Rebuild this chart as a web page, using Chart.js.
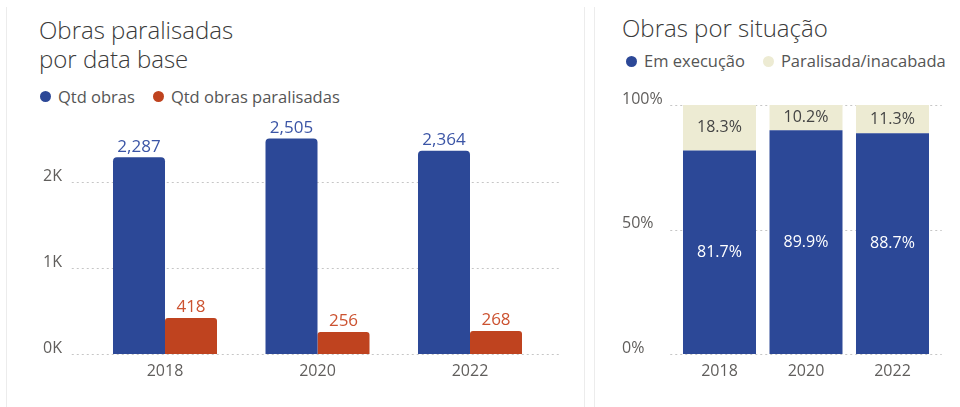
<!DOCTYPE html>
<html>
<head>
<meta charset="utf-8">
<script src="https://cdn.jsdelivr.net/npm/chart.js@4.4.1/dist/chart.umd.min.js"></script>
<style>
  html, body { margin: 0; padding: 0; background: #fff; }
  body { width: 960px; height: 407px; position: relative; overflow: hidden; font-family: "Open Sans", Lato, sans-serif; }
  .panel { position: absolute; top: 7px; height: 410px; border-left: 1px solid #ececec; }
  .title { position: absolute; font-size: 24px; line-height: 29px; color: #3a3a3a; margin: 0; font-weight: 300; white-space: nowrap; }
  .legend { position: absolute; display: flex; font-size: 16.5px; line-height: 20px; color: #555; white-space: nowrap; }
  .legend span.item { display: flex; align-items: center; margin-right: 18px; }
  .legend i { display: inline-block; width: 11px; height: 11px; border-radius: 50%; margin-right: 7px; }
  canvas { position: absolute; top: 0; }
</style>
</head>
<body>
<div class="panel" style="left:6px; width:577px; border-right:1px solid #ececec;"></div>
<div class="panel" style="left:594px; width:370px;"></div>

<div class="title" style="left:39px; top:15px;">Obras paralisadas<br>por data base</div>
<div class="legend" id="legendLeft" style="left:40px; top:86.5px;"></div>

<div class="title" style="left:622px; top:13px;">Obras por situação</div>
<div class="legend" id="legendRight" style="left:626px; top:51px;"></div>

<canvas id="chartLeft" width="590" height="407" style="left:0;"></canvas>
<canvas id="chartRight" width="370" height="407" style="left:590px;"></canvas>

<script>
// dados - obras paralisadas por data base
var anos = ["2018", "2020", "2022"];
var seriesLeft = ["Qtd obras", "Qtd obras paralisadas"];
var qtdObras = [2287, 2505, 2364];
var qtdParalisadas = [418, 256, 268];
var ticksLeft = [0, 1000, 2000];

// dados - obras por situação (%)
var seriesRight = ["Em execução", "Paralisada/inacabada"];
var emExecucao = [81.7, 89.9, 88.7];
var paralisada = [18.3, 10.2, 11.3];
var ticksRight = [0, 50, 100];

var BLUE = "#2c4897";
var RED = "#bf431f";
var BEIGE = "#edebd3";
var TICK_COLOR = "#605e5c";
var FONT = "Open Sans";
var tickFont = { family: FONT, size: 16 };

function buildLegend(id, names, colors) {
    var el = document.getElementById(id);
    names.forEach(function (n, i) {
        var s = document.createElement("span");
        s.className = "item";
        s.innerHTML = '<i style="background:' + colors[i] + '"></i>' + n;
        el.appendChild(s);
    });
}
buildLegend("legendLeft", seriesLeft, [BLUE, RED]);
buildLegend("legendRight", seriesRight, [BLUE, BEIGE]);

function fixedTicks(values) {
    return function (scale) {
        scale.ticks = values.map(function (v) { return { value: v }; });
    };
}

// gridlines pontilhadas que passam um pouco da área do gráfico
var dottedGrid = {
    id: "dottedGrid",
    beforeDatasetsDraw: function (chart, args, opts) {
        var ctx = chart.ctx, y = chart.scales.y, area = chart.chartArea;
        ctx.save();
        ctx.strokeStyle = "#c6c6c6";
        ctx.lineWidth = 1;
        ctx.setLineDash([2, 3]);
        y.ticks.forEach(function (t) {
            var py = Math.round(y.getPixelForValue(t.value)) + 0.5;
            ctx.beginPath();
            ctx.moveTo(area.left - opts.extendLeft, py);
            ctx.lineTo(area.right + opts.extendRight, py);
            ctx.stroke();
        });
        ctx.restore();
    }
};

// rótulos de valor
var valueLabels = {
    id: "valueLabels",
    afterDatasetsDraw: function (chart, args, opts) {
        var ctx = chart.ctx;
        ctx.save();
        ctx.font = opts.size + "px '" + FONT + "'";
        ctx.textAlign = "center";
        chart.data.datasets.forEach(function (ds, di) {
            chart.getDatasetMeta(di).data.forEach(function (bar, i) {
                var v = ds.data[i];
                ctx.fillStyle = opts.colors[di];
                if (opts.inside) {
                    ctx.textBaseline = "middle";
                    ctx.fillText(v.toFixed(1) + "%", bar.x, (bar.y + bar.base) / 2);
                } else {
                    ctx.textBaseline = "bottom";
                    ctx.fillText(v.toLocaleString("en-US"), bar.x, bar.y - 2);
                }
            });
        });
        ctx.restore();
    }
};

new Chart("chartLeft", {
    type: "bar",
    data: {
        labels: anos,
        datasets: [
            { label: seriesLeft[0], data: qtdObras, backgroundColor: BLUE, borderRadius: 4, borderSkipped: "bottom" },
            { label: seriesLeft[1], data: qtdParalisadas, backgroundColor: RED, borderRadius: 3, borderSkipped: "bottom" }
        ]
    },
    options: {
        responsive: false,
        animation: false,
        layout: { padding: { top: 117.5, left: 0, right: 43.75, bottom: 0 } },
        datasets: { bar: { categoryPercentage: 0.682, barPercentage: 1 } },
        plugins: {
            legend: { display: false },
            tooltip: { enabled: false },
            dottedGrid: { extendLeft: 17, extendRight: 15 },
            valueLabels: { size: 17, colors: ["#3b55a6", "#cc5230"] }
        },
        scales: {
            x: {
                grid: { display: false, drawTicks: false },
                border: { display: false },
                ticks: { font: tickFont, color: TICK_COLOR, padding: 8 },
                afterFit: function (s) { s.height = 53; }
            },
            y: {
                min: 0,
                max: 2750,
                grid: { display: false, drawTicks: false },
                border: { display: false },
                afterBuildTicks: fixedTicks(ticksLeft),
                ticks: {
                    font: tickFont,
                    color: TICK_COLOR,
                    padding: 26.75,
                    labelOffset: -6,
                    callback: function (v) { return (v / 1000) + "K"; }
                },
                afterFit: function (s) { s.width = 88.75; }
            }
        }
    },
    plugins: [dottedGrid, valueLabels]
});

new Chart("chartRight", {
    type: "bar",
    data: {
        labels: anos,
        datasets: [
            { label: seriesRight[0], data: emExecucao, backgroundColor: BLUE },
            { label: seriesRight[1], data: paralisada, backgroundColor: BEIGE }
        ]
    },
    options: {
        responsive: false,
        animation: false,
        layout: { padding: { top: 105, left: 32, right: 24.25, bottom: 0 } },
        datasets: { bar: { categoryPercentage: 0.844, barPercentage: 1 } },
        plugins: {
            legend: { display: false },
            tooltip: { enabled: false },
            dottedGrid: { extendLeft: 6, extendRight: 6 },
            valueLabels: { inside: true, size: 16, colors: ["#ffffff", "#444444"] }
        },
        scales: {
            x: {
                stacked: true,
                grid: { display: false, drawTicks: false },
                border: { display: false },
                ticks: { font: tickFont, color: TICK_COLOR, padding: 8 },
                afterFit: function (s) { s.height = 53; }
            },
            y: {
                stacked: true,
                min: 0,
                max: 100,
                grid: { display: false, drawTicks: false },
                border: { display: false },
                afterBuildTicks: fixedTicks(ticksRight),
                ticks: {
                    font: tickFont,
                    color: TICK_COLOR,
                    crossAlign: "far",
                    labelOffset: -6,
                    callback: function (v) { return v + "%"; }
                },
                afterFit: function (s) { s.width = 54.25; }
            }
        }
    },
    plugins: [dottedGrid, valueLabels]
});
</script>
</body>
</html>
